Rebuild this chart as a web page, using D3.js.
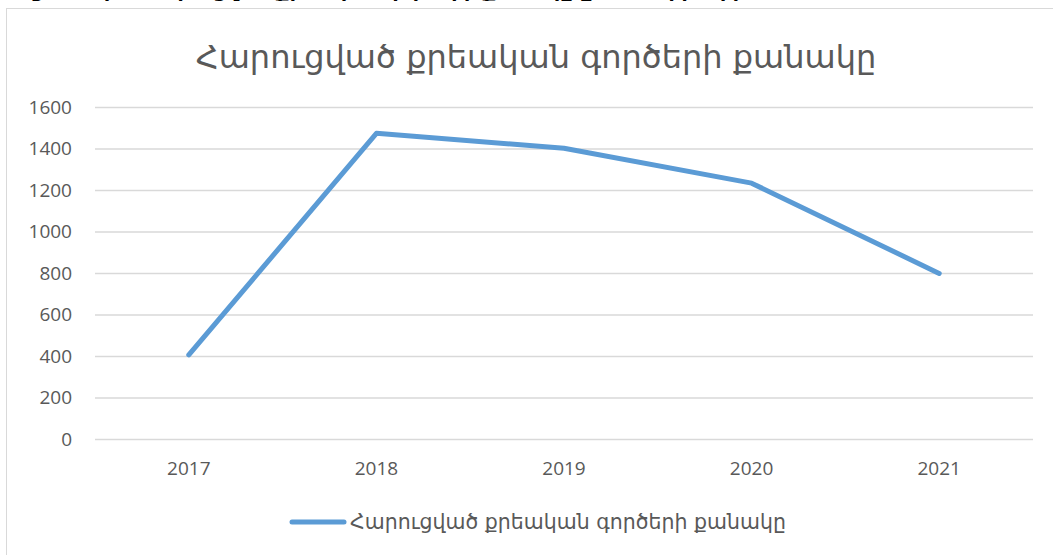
<!doctype html>
<html>
  <head>
    <meta charset="utf-8" />
    <script src="https://cdn.jsdelivr.net/npm/d3@7"></script>
    <style>
      html,
      body {
        margin: 0;
        background: #fff;
        overflow: hidden;
      }
      text {
        font-family: "DejaVu Sans", "Noto Sans", sans-serif;
      }
      .tick text {
        font-family: "Open Sans", "Noto Sans", sans-serif;
      }
    </style>
  </head>
  <body>
    <script>
      // data
      const years = ["2017", "2018", "2019", "2020", "2021"];
      const cases = [405, 1473, 1401, 1233, 798];
      const yTicks = [0, 200, 400, 600, 800, 1000, 1200, 1400, 1600];
      const seriesName = "Հարուցված քրեական գործերի քանակը";

      const width = 1053;
      const height = 555;
      const lineColor = "#5b9bd5";
      const textColor = "#595959";
      const gridColor = "#d9d9d9";

      const svg = d3
        .select("body")
        .append("svg")
        .attr("width", width)
        .attr("height", height);

      // piece of the document caption above the chart, cut off by the crop
      svg
        .append("text")
        .attr("x", 8)
        .attr("y", -3)
        .attr("font-weight", "bold")
        .attr("font-size", 20)
        .attr("fill", "#000")
        .text("Աղյուսակ 1. Հարուցված քրեական գործերի քանակը ըստ տարիների");

      // chart area border
      svg
        .append("rect")
        .attr("x", 6.5)
        .attr("y", 8.5)
        .attr("width", width + 10)
        .attr("height", height + 10)
        .attr("fill", "#fff")
        .attr("stroke", gridColor);

      const x = d3.scaleBand().domain(years).range([95, 1033]);
      const y = d3.scaleLinear().domain([0, 1600]).range([439, 107]);

      // gridlines
      svg
        .append("g")
        .selectAll("line")
        .data(yTicks)
        .join("line")
        .attr("x1", 95)
        .attr("x2", 1033)
        .attr("y1", (d) => y(d) + 0.5)
        .attr("y2", (d) => y(d) + 0.5)
        .attr("stroke", gridColor)
        .attr("stroke-width", 1.3);

      // y axis labels
      const yAxis = svg
        .append("g")
        .attr("transform", "translate(82,0)")
        .call(
          d3
            .axisLeft(y)
            .tickValues(yTicks)
            .tickFormat(d3.format("d"))
            .tickSize(0)
            .tickPadding(10),
        );
      yAxis.select(".domain").remove();
      yAxis
        .selectAll("text")
        .attr("font-size", 19)
        .attr("fill", textColor);

      // x axis labels
      const xAxis = svg
        .append("g")
        .attr("transform", "translate(0,452)")
        .call(d3.axisBottom(x).tickSize(0).tickPadding(10));
      xAxis.select(".domain").remove();
      xAxis
        .selectAll("text")
        .attr("font-size", 19)
        .attr("fill", textColor);

      // line
      const line = d3
        .line()
        .x((d, i) => x(years[i]) + x.bandwidth() / 2)
        .y((d) => y(d));

      svg
        .append("path")
        .datum(cases)
        .attr("d", line)
        .attr("fill", "none")
        .attr("stroke", lineColor)
        .attr("stroke-width", 5)
        .attr("stroke-linecap", "round")
        .attr("stroke-linejoin", "round");

      // title
      svg
        .append("text")
        .attr("x", 536)
        .attr("y", 68)
        .attr("text-anchor", "middle")
        .attr("font-size", 32)
        .attr("fill", textColor)
        .text(seriesName);

      // legend
      const legend = svg.append("g").attr("transform", "translate(292,522)");
      legend
        .append("line")
        .attr("x1", 0)
        .attr("x2", 52)
        .attr("stroke", lineColor)
        .attr("stroke-width", 5)
        .attr("stroke-linecap", "round");
      legend
        .append("text")
        .attr("x", 58)
        .attr("y", 7)
        .attr("font-size", 20.5)
        .attr("fill", textColor)
        .text(seriesName);
    </script>
  </body>
</html>
